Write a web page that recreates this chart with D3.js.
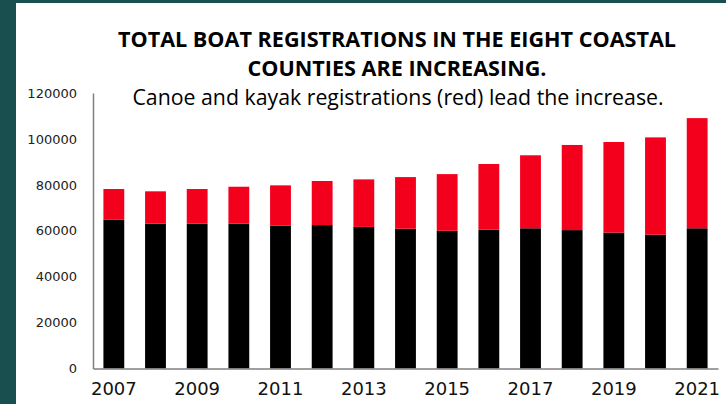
<!DOCTYPE html>
<html>
<head>
<meta charset="utf-8">
<script src="https://cdn.jsdelivr.net/npm/d3@7"></script>
<style>
  html, body { margin: 0; padding: 0; background: #ffffff; }
  svg { display: block; }
</style>
</head>
<body>
<svg id="chart" width="726" height="404"></svg>
<script>
// Registrations by year in the eight coastal counties
const years = [2007, 2008, 2009, 2010, 2011, 2012, 2013, 2014, 2015, 2016, 2017, 2018, 2019, 2020, 2021];
const otherBoats = [64800, 63100, 63100, 63100, 62200, 62500, 61700, 60900, 60000, 60500, 61100, 60300, 59200, 58300, 61100];
const canoeKayak = [13400, 14100, 15100, 16100, 17600, 19200, 20700, 22500, 24700, 28600, 31800, 37100, 39500, 42400, 48000];
const yTicks = [0, 20000, 40000, 60000, 80000, 100000, 120000];
const xTickYears = [2007, 2009, 2011, 2013, 2015, 2017, 2019, 2021];

const titleLines = ["TOTAL BOAT REGISTRATIONS IN THE EIGHT COASTAL", "COUNTIES ARE INCREASING."];
const subtitle = "Canoe and kayak registrations (red) lead the increase.";

const svg = d3.select("#chart");
const W = 726, H = 404;

// dark frame on the left and top
svg.append("rect").attr("x", 0).attr("y", 0).attr("width", W).attr("height", H).attr("fill", "#1a4f4f");
svg.append("rect").attr("x", 16).attr("y", 3).attr("width", W - 16).attr("height", H - 3).attr("fill", "#ffffff");

const plot = { left: 93, right: 718, top: 93.1, bottom: 368.5 };

const x = d3.scaleBand().domain(years).range([plot.left, plot.right]).paddingInner(0.5).paddingOuter(0.25);
const y = d3.scaleLinear().domain([0, 120000]).range([plot.bottom, plot.top]);

const stackData = years.map((yr, i) => ({ year: yr, other: otherBoats[i], canoe: canoeKayak[i] }));
const series = d3.stack().keys(["other", "canoe"])(stackData);
const colors = { other: "#000000", canoe: "#f2001c" };

svg.append("g").selectAll("g")
  .data(series)
  .join("g")
  .attr("fill", d => colors[d.key])
  .selectAll("rect")
  .data(d => d)
  .join("rect")
  .attr("x", d => x(d.data.year))
  .attr("width", x.bandwidth())
  .attr("y", d => y(d[1]))
  .attr("height", d => y(d[0]) - y(d[1]));

// axes
const yAxis = d3.axisLeft(y).tickValues(yTicks).tickSize(0).tickPadding(16).tickFormat(d3.format("d"));
const gy = svg.append("g").attr("transform", `translate(${plot.left},0)`).call(yAxis);
gy.select(".domain").attr("stroke", "#7f7f7f").attr("stroke-width", 1.5);
gy.selectAll("text").attr("font-family", "DejaVu Sans, Verdana, sans-serif").attr("font-size", 13).attr("fill", "#222");

const xAxis = d3.axisBottom(x).tickValues(xTickYears).tickSize(0).tickPadding(14).tickFormat(d3.format("d"));
const gx = svg.append("g").attr("transform", `translate(0,${plot.bottom})`).call(xAxis);
gx.select(".domain").attr("stroke", "#7f7f7f").attr("stroke-width", 1.5);
gx.selectAll("text").attr("font-family", "DejaVu Sans, Verdana, sans-serif").attr("font-size", 18).attr("fill", "#111");

// titles
const titleFont = "'Open Sans', 'Noto Sans', sans-serif";
svg.selectAll(".title")
  .data(titleLines)
  .join("text")
  .attr("class", "title")
  .attr("x", 397)
  .attr("y", (d, i) => 47 + i * 28.5)
  .attr("text-anchor", "middle")
  .attr("font-family", titleFont)
  .attr("font-weight", 700)
  .attr("font-size", 21.6)
  .attr("fill", "#000")
  .text(d => d);

svg.append("text")
  .attr("x", 398)
  .attr("y", 105)
  .attr("text-anchor", "middle")
  .attr("font-family", titleFont)
  .attr("font-size", 21.3)
  .attr("fill", "#000")
  .text(subtitle);
</script>
</body>
</html>
